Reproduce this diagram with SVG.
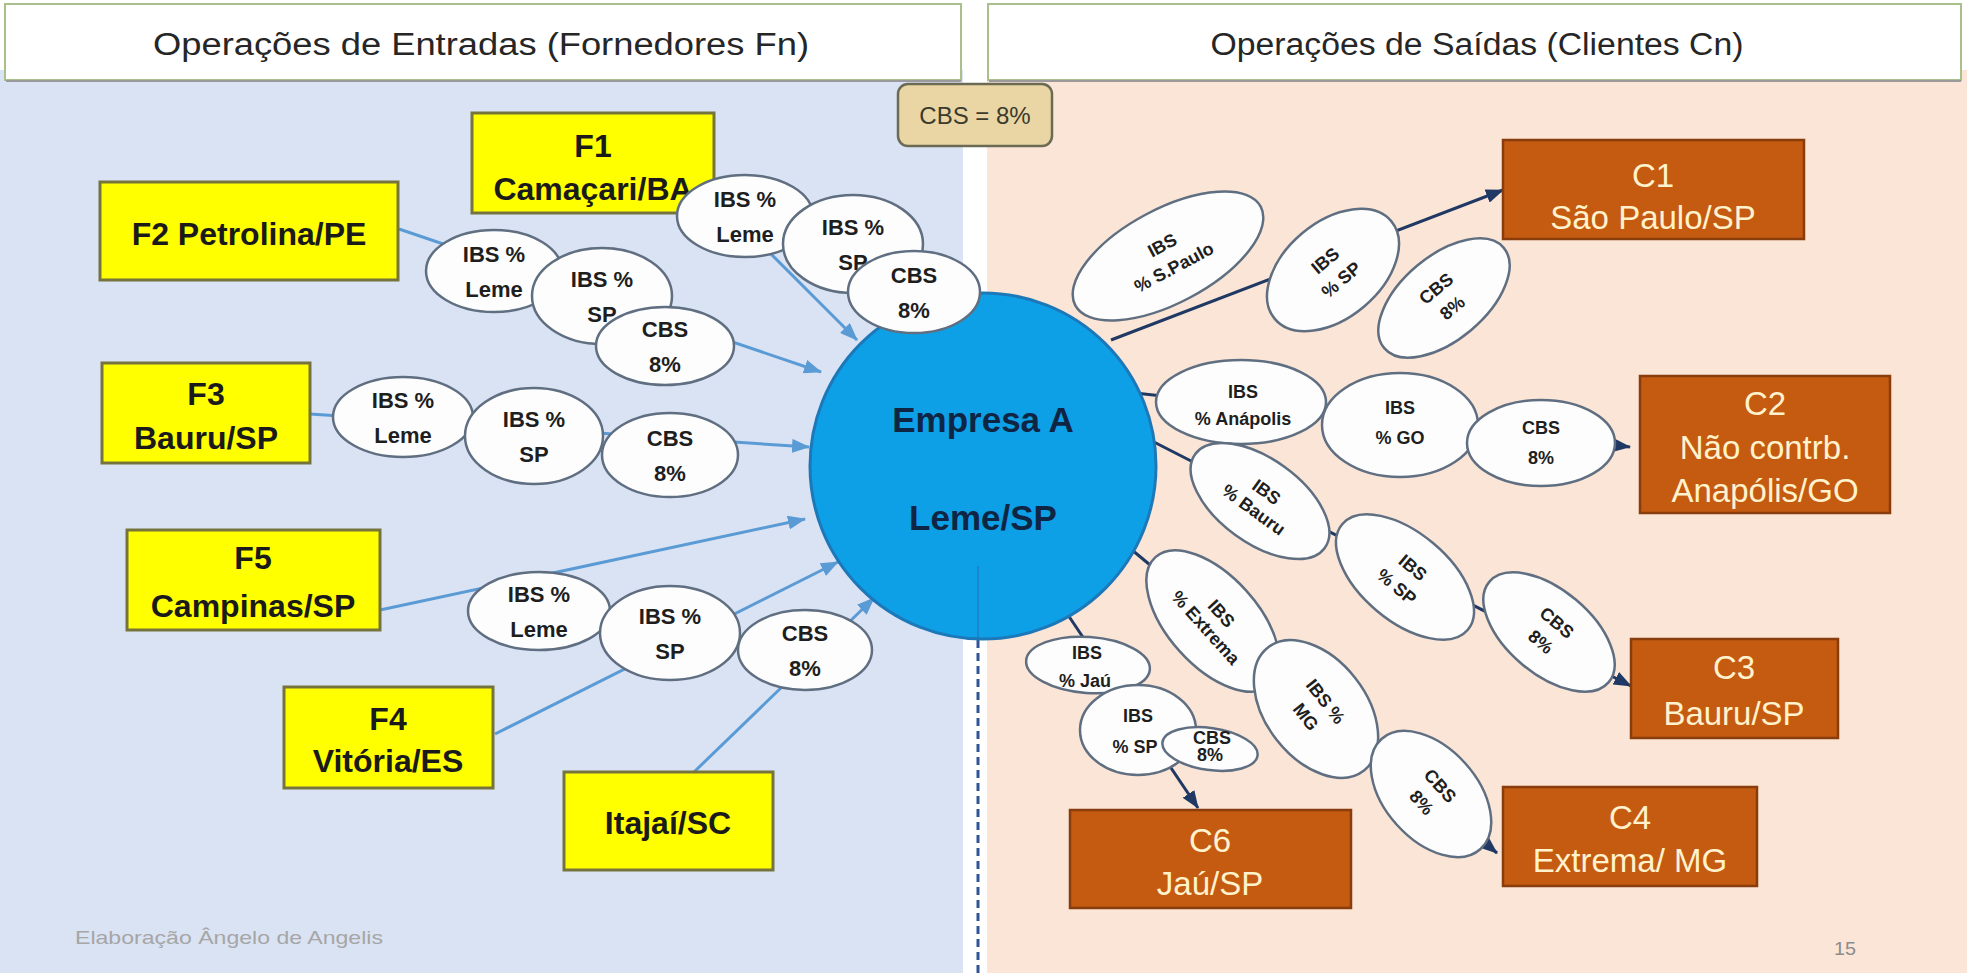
<svg xmlns="http://www.w3.org/2000/svg" width="1967" height="973" viewBox="0 0 1967 973">
<defs>
<style>
.hdr{fill:#ffffff;stroke:#a9bf8c;stroke-width:2}
.htx{font-family:"Liberation Sans",Arial,sans-serif;font-size:31px;fill:#262626;text-anchor:middle}
.ybox{fill:#ffff00;stroke:#74743c;stroke-width:3}
.ytx{font-family:"Liberation Sans",Arial,sans-serif;font-size:32px;font-weight:bold;fill:#1a1a1a;text-anchor:middle}
.obox{fill:#c55a11;stroke:#8a3d0c;stroke-width:2.5}
.otx{font-family:"Liberation Sans",Arial,sans-serif;font-size:33px;fill:#fff2cc;text-anchor:middle}
.bub{fill:#fdfdfd;stroke:#5f6e80;stroke-width:2.5}
.btx{font-family:"Liberation Sans",Arial,sans-serif;font-size:22px;font-weight:bold;fill:#1e1e1e;text-anchor:middle}
.rtx{font-family:"Liberation Sans",Arial,sans-serif;font-size:18px;font-weight:bold;fill:#1e1e1e;text-anchor:middle}
.lin{stroke:#5b9bd5;stroke-width:3;fill:none}
.rin{stroke:#1f3864;stroke-width:3;fill:none}
</style>
<marker id="ab" markerUnits="userSpaceOnUse" markerWidth="18" markerHeight="14" refX="17" refY="7" orient="auto">
<path d="M0,0 L18,7 L0,14 z" fill="#5b9bd5"/>
</marker>
<marker id="an" markerUnits="userSpaceOnUse" markerWidth="18" markerHeight="14" refX="17" refY="7" orient="auto">
<path d="M0,0 L18,7 L0,14 z" fill="#1f3864"/>
</marker>
</defs>

<!-- backgrounds -->
<rect x="0" y="0" width="1967" height="973" fill="#ffffff"/>
<rect x="0" y="70" width="963" height="903" fill="#dae3f3"/>
<rect x="987" y="70" width="980" height="903" fill="#fbe5d6"/>

<!-- headers -->
<g id="header-left">
<rect class="hdr" x="5" y="4" width="956" height="76"/>
<line x1="6" y1="81" x2="961" y2="81" stroke="#9a9a9a" stroke-width="2"/>
<text class="htx" x="481" y="55" textLength="656" lengthAdjust="spacingAndGlyphs">Operações de Entradas (Fornedores Fn)</text>
</g>
<g id="header-right">
<rect class="hdr" x="988" y="4" width="973" height="76"/>
<line x1="989" y1="81" x2="1961" y2="81" stroke="#9a9a9a" stroke-width="2"/>
<text class="htx" x="1477" y="55" textLength="533" lengthAdjust="spacingAndGlyphs">Operações de Saídas (Clientes Cn)</text>
</g>

<!-- CBS note -->
<g id="cbs-note">
<rect x="898" y="84" width="154" height="62" rx="10" fill="#e9d6a4" stroke="#6b6a55" stroke-width="2.5"/>
<text x="975" y="124" font-family="Liberation Sans, Arial, sans-serif" font-size="24" fill="#3b3a2c" text-anchor="middle">CBS = 8%</text>
</g>

<!-- divider -->
<line x1="978" y1="566" x2="978" y2="638" stroke="#2f5597" stroke-width="2" opacity="0.35"/>
<line x1="978" y1="640" x2="978" y2="973" stroke="#2f5597" stroke-width="3" stroke-dasharray="8 5"/>

<!-- connectors -->
<g id="connectors">
<line class="lin" x1="735" y1="218" x2="857" y2="340" marker-end="url(#ab)"/>
<line class="lin" x1="399" y1="229" x2="821" y2="372" marker-end="url(#ab)"/>
<line class="lin" x1="310" y1="414" x2="809" y2="447" marker-end="url(#ab)"/>
<line class="lin" x1="380" y1="610" x2="805" y2="519" marker-end="url(#ab)"/>
<line class="lin" x1="495" y1="734" x2="838" y2="562" marker-end="url(#ab)"/>
<line class="lin" x1="694" y1="772" x2="874" y2="598" marker-end="url(#ab)"/>
<line class="rin" x1="1111" y1="340" x2="1503" y2="190" marker-end="url(#an)"/>
<line class="rin" x1="1135" y1="393" x2="1630" y2="447" marker-end="url(#an)"/>
<line class="rin" x1="1150" y1="440" x2="1631" y2="686" marker-end="url(#an)"/>
<line class="rin" x1="1120" y1="540" x2="1497" y2="853" marker-end="url(#an)"/>
<line class="rin" x1="1068" y1="615" x2="1198" y2="808" marker-end="url(#an)"/>
</g>

<!-- central node -->
<g id="empresa-a">
<circle cx="983" cy="466" r="173" fill="#0ea0e6" stroke="#1c78b8" stroke-width="3"/>
<text x="983" y="432" font-family="Liberation Sans, Arial, sans-serif" font-size="35" font-weight="bold" fill="#0f2544" text-anchor="middle">Empresa A</text>
<text x="983" y="530" font-family="Liberation Sans, Arial, sans-serif" font-size="35" font-weight="bold" fill="#0f2544" text-anchor="middle">Leme/SP</text>
</g>
<line x1="978" y1="566" x2="978" y2="638" stroke="#2f5597" stroke-width="2" opacity="0.35"/>

<!-- supplier nodes -->
<g id="F1"><rect class="ybox" x="472" y="113" width="242" height="100"/>
<text class="ytx" x="593" y="157">F1</text><text class="ytx" x="593" y="200">Camaçari/BA</text></g>
<g id="F2"><rect class="ybox" x="100" y="182" width="298" height="98"/>
<text class="ytx" x="249" y="245">F2 Petrolina/PE</text></g>
<g id="F3"><rect class="ybox" x="102" y="363" width="208" height="100"/>
<text class="ytx" x="206" y="405">F3</text><text class="ytx" x="206" y="449">Bauru/SP</text></g>
<g id="F5"><rect class="ybox" x="127" y="530" width="253" height="100"/>
<text class="ytx" x="253" y="569">F5</text><text class="ytx" x="253" y="617">Campinas/SP</text></g>
<g id="F4"><rect class="ybox" x="284" y="687" width="209" height="101"/>
<text class="ytx" x="388" y="730">F4</text><text class="ytx" x="388" y="772">Vitória/ES</text></g>
<g id="Itajai"><rect class="ybox" x="564" y="772" width="209" height="98"/>
<text class="ytx" x="668" y="834">Itajaí/SC</text></g>

<!-- left tax bubbles -->
<g id="f2-ibs-leme"><ellipse class="bub" cx="494" cy="271" rx="68" ry="41"/>
<text class="btx" x="494" y="262">IBS %</text><text class="btx" x="494" y="297">Leme</text></g>
<g id="f2-ibs-sp"><ellipse class="bub" cx="602" cy="296" rx="70" ry="48"/>
<text class="btx" x="602" y="287">IBS %</text><text class="btx" x="602" y="322">SP</text></g>
<g id="f2-cbs"><ellipse class="bub" cx="665" cy="346" rx="69" ry="39"/>
<text class="btx" x="665" y="337">CBS</text><text class="btx" x="665" y="372">8%</text></g>

<g id="f1-ibs-leme"><ellipse class="bub" cx="745" cy="216" rx="68" ry="41"/>
<text class="btx" x="745" y="207">IBS %</text><text class="btx" x="745" y="242">Leme</text></g>
<g id="f1-ibs-sp"><ellipse class="bub" cx="853" cy="244" rx="70" ry="49"/>
<text class="btx" x="853" y="235">IBS %</text><text class="btx" x="853" y="270">SP</text></g>
<g id="f1-cbs"><ellipse class="bub" cx="914" cy="292" rx="66" ry="41"/>
<text class="btx" x="914" y="283">CBS</text><text class="btx" x="914" y="318">8%</text></g>

<g id="f3-ibs-leme"><ellipse class="bub" cx="403" cy="417" rx="70" ry="40"/>
<text class="btx" x="403" y="408">IBS %</text><text class="btx" x="403" y="443">Leme</text></g>
<g id="f3-ibs-sp"><ellipse class="bub" cx="534" cy="436" rx="69" ry="48"/>
<text class="btx" x="534" y="427">IBS %</text><text class="btx" x="534" y="462">SP</text></g>
<g id="f3-cbs"><ellipse class="bub" cx="670" cy="455" rx="68" ry="42"/>
<text class="btx" x="670" y="446">CBS</text><text class="btx" x="670" y="481">8%</text></g>

<g id="f4-ibs-leme"><ellipse class="bub" cx="539" cy="611" rx="71" ry="39"/>
<text class="btx" x="539" y="602">IBS %</text><text class="btx" x="539" y="637">Leme</text></g>
<g id="f4-ibs-sp"><ellipse class="bub" cx="670" cy="633" rx="70" ry="47"/>
<text class="btx" x="670" y="624">IBS %</text><text class="btx" x="670" y="659">SP</text></g>
<g id="f4-cbs"><ellipse class="bub" cx="805" cy="650" rx="67" ry="40"/>
<text class="btx" x="805" y="641">CBS</text><text class="btx" x="805" y="676">8%</text></g>

<!-- client nodes -->
<g id="C1"><rect class="obox" x="1503" y="140" width="301" height="99"/>
<text class="otx" x="1653" y="187">C1</text><text class="otx" x="1653" y="229">São Paulo/SP</text></g>
<g id="C2"><rect class="obox" x="1640" y="376" width="250" height="137"/>
<text class="otx" x="1765" y="415">C2</text><text class="otx" x="1765" y="459">Não contrb.</text><text class="otx" x="1765" y="502">Anapólis/GO</text></g>
<g id="C3"><rect class="obox" x="1631" y="639" width="207" height="99"/>
<text class="otx" x="1734" y="679">C3</text><text class="otx" x="1734" y="725">Bauru/SP</text></g>
<g id="C4"><rect class="obox" x="1503" y="787" width="254" height="99"/>
<text class="otx" x="1630" y="829">C4</text><text class="otx" x="1630" y="872">Extrema/ MG</text></g>
<g id="C6"><rect class="obox" x="1070" y="810" width="281" height="98"/>
<text class="otx" x="1210" y="852">C6</text><text class="otx" x="1210" y="895">Jaú/SP</text></g>

<!-- right tax bubbles -->
<g id="c1-ibs-spaulo" transform="translate(1168,256) rotate(-28)"><ellipse class="bub" cx="0" cy="0" rx="105" ry="47"/>
<text class="rtx" x="0" y="-6">IBS</text><text class="rtx" x="0" y="19" font-size="16">% S.Paulo</text></g>
<g id="c1-ibs-sp" transform="translate(1333,270) rotate(-40)"><ellipse class="bub" cx="0" cy="0" rx="76" ry="48"/>
<text class="rtx" x="0" y="-6">IBS</text><text class="rtx" x="0" y="19">% SP</text></g>
<g id="c1-cbs" transform="translate(1444,298) rotate(-40)"><ellipse class="bub" cx="0" cy="0" rx="78" ry="42"/>
<text class="rtx" x="0" y="-6">CBS</text><text class="rtx" x="0" y="19">8%</text></g>

<g id="c2-ibs-anapolis"><ellipse class="bub" cx="1241" cy="402" rx="85" ry="42"/>
<text class="rtx" x="1243" y="398">IBS</text><text class="rtx" x="1243" y="425" font-size="13">% Anápolis</text></g>
<g id="c2-ibs-go"><ellipse class="bub" cx="1400" cy="425" rx="78" ry="52"/>
<text class="rtx" x="1400" y="414">IBS</text><text class="rtx" x="1400" y="444">% GO</text></g>
<g id="c2-cbs"><ellipse class="bub" cx="1541" cy="443" rx="74" ry="43"/>
<text class="rtx" x="1541" y="434">CBS</text><text class="rtx" x="1541" y="464">8%</text></g>

<g id="c3-ibs-bauru" transform="translate(1260,501) rotate(36)"><ellipse class="bub" cx="0" cy="0" rx="80" ry="42"/>
<text class="rtx" x="0" y="-5" font-size="16">IBS</text><text class="rtx" x="0" y="17" font-size="14">% Bauru</text></g>
<g id="c3-ibs-sp" transform="translate(1405,577) rotate(40)"><ellipse class="bub" cx="0" cy="0" rx="82" ry="44"/>
<text class="rtx" x="0" y="-6">IBS</text><text class="rtx" x="0" y="19">% SP</text></g>
<g id="c3-cbs" transform="translate(1549,632) rotate(40)"><ellipse class="bub" cx="0" cy="0" rx="78" ry="42"/>
<text class="rtx" x="0" y="-6">CBS</text><text class="rtx" x="0" y="19">8%</text></g>

<g id="c4-ibs-extrema" transform="translate(1213,621) rotate(48)"><ellipse class="bub" cx="0" cy="0" rx="86" ry="45"/>
<text class="rtx" x="0" y="-5" font-size="15">IBS</text><text class="rtx" x="0" y="16" font-size="13">% Extrema</text></g>
<g id="c4-ibs-mg" transform="translate(1316,709) rotate(52)"><ellipse class="bub" cx="0" cy="0" rx="78" ry="50"/>
<text class="rtx" x="0" y="-6">IBS %</text><text class="rtx" x="0" y="19">MG</text></g>
<g id="c4-cbs" transform="translate(1431,794) rotate(48)"><ellipse class="bub" cx="0" cy="0" rx="74" ry="46"/>
<text class="rtx" x="0" y="-6">CBS</text><text class="rtx" x="0" y="19">8%</text></g>

<g id="c6-ibs-jau"><ellipse class="bub" cx="1088" cy="665" rx="62" ry="28" transform="rotate(4 1088 665)"/>
<text class="rtx" x="1087" y="659" font-size="16">IBS</text><text class="rtx" x="1085" y="687" font-size="14">% Jaú</text></g>
<g id="c6-ibs-sp"><ellipse class="bub" cx="1138" cy="730" rx="58" ry="45"/>
<text class="rtx" x="1138" y="722" font-size="16">IBS</text><text class="rtx" x="1135" y="753" font-size="16">% SP</text></g>
<g id="c6-cbs"><ellipse class="bub" cx="1210" cy="749" rx="48" ry="21" transform="rotate(8 1210 749)"/>
<text class="rtx" x="1212" y="744" font-size="11">CBS</text><text class="rtx" x="1210" y="761" font-size="11">8%</text></g>

<!-- footer -->
<text x="75" y="944" font-family="Liberation Sans, Arial, sans-serif" font-size="19" fill="#a6a6a6" textLength="308" lengthAdjust="spacingAndGlyphs">Elaboração Ângelo de Angelis</text>
<text x="1834" y="955" font-family="Liberation Sans, Arial, sans-serif" font-size="18" fill="#8c8c8c" textLength="22" lengthAdjust="spacingAndGlyphs">15</text>
</svg>
